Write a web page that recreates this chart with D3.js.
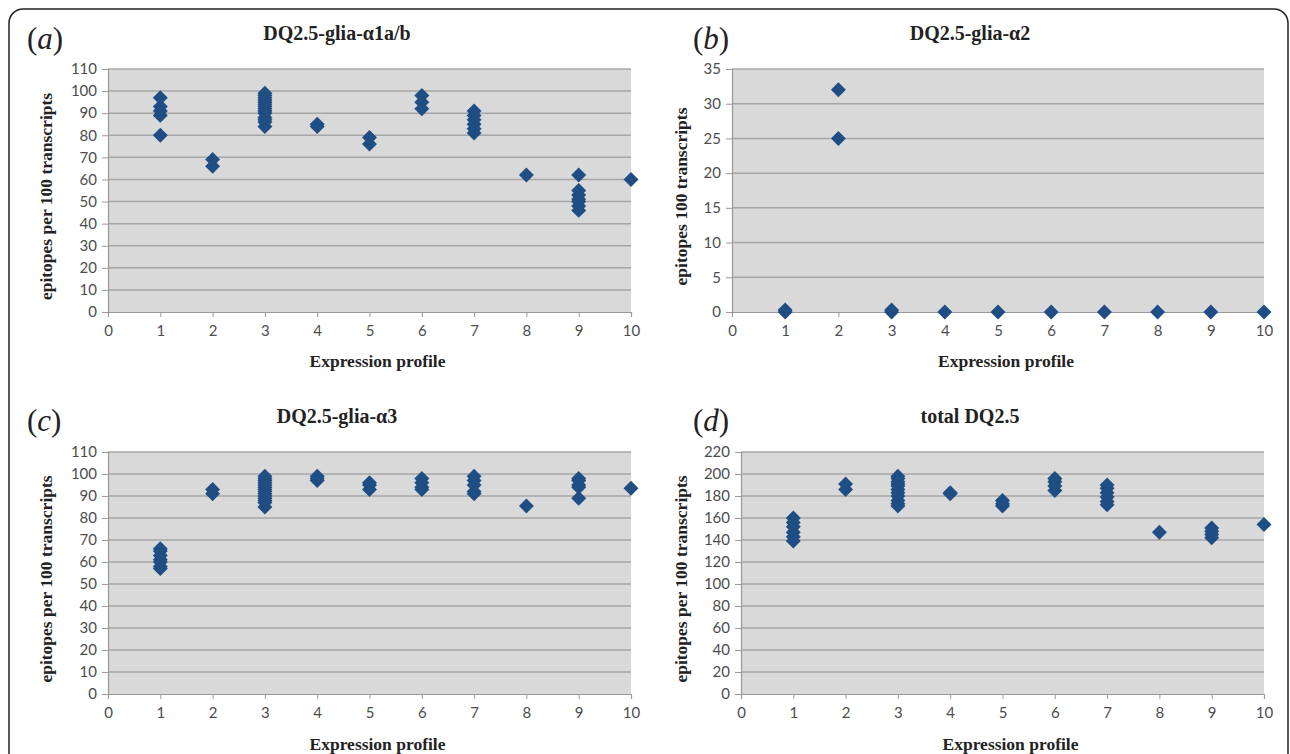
<!DOCTYPE html>
<html>
<head>
<meta charset="utf-8">
<script src="https://cdn.jsdelivr.net/npm/d3@7"></script>
<style>
  body { margin: 0; background: #fff; }
  .tick text { font-family: Lato, "Liberation Sans", sans-serif; font-size: 15px; fill: #4d4d4d; }
</style>
</head>
<body>
<svg id="fig" width="1290" height="754"></svg>
<script>
// x axis: expression profile 0..10
const profileTicks = d3.range(0, 11);

// values per expression profile 1..10
const alpha1ab = [
  [80, 89, 91, 93, 97],
  [66, 69],
  [84, 86, 87, 88, 90, 91, 92, 93, 94, 95, 96, 97, 98, 99],
  [84, 85],
  [76, 79],
  [92, 95, 98],
  [81, 83, 85, 87, 89, 91],
  [62],
  [46, 48, 50, 51, 53, 55, 62],
  [60]
];
const alpha2 = [
  [0, 0.3],
  [25, 32],
  [0, 0.3],
  [0],
  [0],
  [0],
  [0],
  [0],
  [0],
  [0]
];
const alpha3 = [
  [57, 58, 60, 61, 63, 65, 66],
  [91, 93],
  [85, 87, 88, 89, 90, 91, 92, 93, 94, 95, 96, 97, 98, 99],
  [97, 98, 99],
  [93, 95, 96],
  [93, 94, 96, 98],
  [91, 92, 95, 97, 99],
  [85.5],
  [89, 94, 95, 97, 98],
  [93.5]
];
const totalDQ25 = [
  [139, 143, 147, 152, 156, 160],
  [186, 191],
  [171, 173, 176, 180, 183, 186, 189, 191, 193, 196, 198],
  [182, 183],
  [171, 173, 176],
  [185, 189, 193, 196],
  [172, 175, 179, 183, 187, 190],
  [147],
  [142, 145, 148, 151],
  [154]
];

const panels = [
  { tag: "a", title: "DQ2.5-glia-\u03b11a/b", ylabel: "epitopes per 100 transcripts", values: alpha1ab, yMax: 110, yStep: 10,
    left: 108, right: 631, top: 69, bottom: 312, tagX: 27, tagY: 49, titleX: 337, titleY: 40, ylabX: 52, xlabY: 367 },
  { tag: "b", title: "DQ2.5-glia-\u03b12", ylabel: "epitopes 100 transcripts", values: alpha2, yMax: 35, yStep: 5,
    left: 732, right: 1264, top: 69, bottom: 312, tagX: 693, tagY: 49, titleX: 970, titleY: 40, ylabX: 687, xlabY: 367 },
  { tag: "c", title: "DQ2.5-glia-\u03b13", ylabel: "epitopes per 100 transcripts", values: alpha3, yMax: 110, yStep: 10,
    left: 108, right: 631, top: 452, bottom: 694, tagX: 27, tagY: 431, titleX: 337, titleY: 423, ylabX: 52, xlabY: 750 },
  { tag: "d", title: "total DQ2.5", ylabel: "epitopes per 100 transcripts", values: totalDQ25, yMax: 220, yStep: 20,
    left: 741, right: 1264, top: 452, bottom: 694, tagX: 693, tagY: 431, titleX: 970, titleY: 423, ylabX: 687, xlabY: 750 }
];

const svg = d3.select("#fig");
const serif = "'Liberation Serif', 'Times New Roman', serif";
const markerColor = "#1f4e84";
const diamond = d3.symbol().type(d3.symbolSquare).size(112);

// outer frame with rounded corners
svg.append("rect").attr("x", 9).attr("y", 9).attr("width", 1279).attr("height", 820)
  .attr("rx", 14).attr("fill", "none").attr("stroke", "#222").attr("stroke-width", 1.5);

panels.forEach(p => {
  const g = svg.append("g");
  const x = d3.scaleLinear().domain([0, 10]).range([p.left, p.right]);
  const y = d3.scaleLinear().domain([0, p.yMax]).range([p.bottom, p.top]);
  const yTicks = d3.range(0, p.yMax + 1, p.yStep);

  g.append("rect").attr("x", p.left).attr("y", p.top).attr("width", p.right - p.left).attr("height", p.bottom - p.top)
    .attr("fill", "#d9d9d9");

  g.selectAll("line.grid").data(yTicks.slice(1)).join("line").attr("class", "grid")
    .attr("x1", p.left).attr("x2", p.right).attr("y1", d => y(d)).attr("y2", d => y(d))
    .attr("stroke", "#a6a6a6").attr("stroke-width", 1.5);

  const yAxis = g.append("g").attr("transform", `translate(${p.left},0)`)
    .call(d3.axisLeft(y).tickValues(yTicks).tickSize(6).tickPadding(5).tickFormat(d3.format("d")));
  const xAxis = g.append("g").attr("transform", `translate(0,${p.bottom})`)
    .call(d3.axisBottom(x).tickValues(profileTicks).tickSize(5).tickPadding(8).tickFormat(d3.format("d")));
  [yAxis, xAxis].forEach(a => {
    a.select(".domain").attr("stroke", "#9a9a9a").attr("stroke-width", 1.2);
    a.selectAll(".tick line").attr("stroke", "#9a9a9a");
  });

  const pts = p.values.flatMap((vals, i) => vals.map(v => ({ profile: i + 1, value: v })));
  g.selectAll("path.pt").data(pts).join("path").attr("class", "pt")
    .attr("d", diamond)
    .attr("transform", d => `translate(${x(d.profile)},${y(d.value)}) rotate(45)`)
    .attr("fill", markerColor);

  g.append("text").attr("x", p.tagX).attr("y", p.tagY)
    .attr("font-family", serif).attr("font-size", 31).attr("fill", "#222")
    .html(`(<tspan font-style="italic">${p.tag}</tspan>)`);

  g.append("text").attr("x", p.titleX).attr("y", p.titleY).attr("text-anchor", "middle")
    .attr("font-family", serif).attr("font-weight", "bold").attr("font-size", 20).attr("fill", "#222")
    .text(p.title);

  g.append("text").attr("transform", `translate(${p.ylabX},${(p.top + p.bottom) / 2 + 6}) rotate(-90)`)
    .attr("text-anchor", "middle").attr("font-family", serif).attr("font-weight", "bold")
    .attr("font-size", 17.5).attr("fill", "#222").text(p.ylabel);

  g.append("text").attr("x", (p.left + p.right) / 2 + 8).attr("y", p.xlabY).attr("text-anchor", "middle")
    .attr("font-family", serif).attr("font-weight", "bold").attr("font-size", 17.5).attr("fill", "#222")
    .text("Expression profile");
});
</script>
</body>
</html>
